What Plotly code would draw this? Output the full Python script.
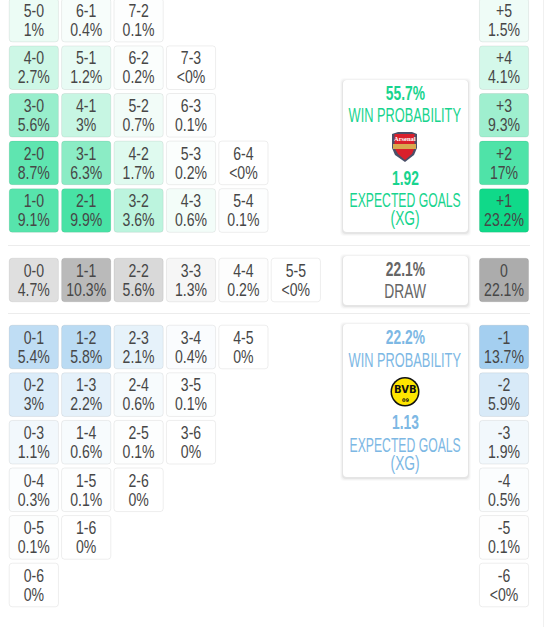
import plotly.graph_objects as go

# correct score blocks, one list per block
home_scores = ["5-0", "6-1", "7-2", "4-0", "5-1", "6-2", "7-3", "3-0", "4-1", "5-2", "6-3",
               "2-0", "3-1", "4-2", "5-3", "6-4", "1-0", "2-1", "3-2", "4-3", "5-4"]
home_pcts = ["1%", "0.4%", "0.1%", "2.7%", "1.2%", "0.2%", "<0%", "5.6%", "3%", "0.7%", "0.1%",
             "8.7%", "6.3%", "1.7%", "0.2%", "<0%", "9.1%", "9.9%", "3.6%", "0.6%", "0.1%"]
draw_scores = ["0-0", "1-1", "2-2", "3-3", "4-4", "5-5"]
draw_pcts = ["4.7%", "10.3%", "5.6%", "1.3%", "0.2%", "<0%"]
away_scores = ["0-1", "1-2", "2-3", "3-4", "4-5", "0-2", "1-3", "2-4", "3-5", "0-3", "1-4", "2-5", "3-6",
               "0-4", "1-5", "2-6", "0-5", "1-6", "0-6"]
away_pcts = ["5.4%", "5.8%", "2.1%", "0.4%", "0%", "3%", "2.2%", "0.6%", "0.1%", "1.1%", "0.6%", "0.1%", "0%",
             "0.3%", "0.1%", "0%", "0.1%", "0%", "0%"]

# goal difference column on the right
diff_labels = ["+5", "+4", "+3", "+2", "+1", "0", "-1", "-2", "-3", "-4", "-5", "-6"]
diff_pcts = ["1.5%", "4.1%", "9.3%", "17%", "23.2%", "22.1%", "13.7%", "5.9%", "1.9%", "0.5%", "0.1%", "<0%"]

home_card = ["55.7%", "WIN PROBABILITY", "1.92", "EXPECTED GOALS", "(XG)"]
draw_card = ["22.1%", "DRAW"]
away_card = ["22.2%", "WIN PROBABILITY", "1.13", "EXPECTED GOALS", "(XG)"]

GREEN = (16, 217, 137)
GREY = (168, 168, 168)
BLUE = (102, 175, 230)
TEXT = "#474747"
FONT = "Liberation Sans"


# x axis is in score columns, y axis in goal difference rows
def xpx(p):
    return (p - 33.8) / 52.4


def ypx(p):
    return 1 + (210.5 - p) / 47.6


def py_of(y):
    return 210.5 - (y - 1) * 47.6


def row_y(d):
    if d > 0:
        return d
    if d == 0:
        return ypx(280)
    return ypx(347) + d + 1


def value(pct):
    return 0.0 if pct.startswith("<") else float(pct.strip("%"))


def shade(base, alpha):
    alpha = min(alpha, 1)
    return "rgb(%d,%d,%d)" % tuple(255 - alpha * (255 - c) for c in base)


def rounded(x0, y0, x1, y1, r):
    # pixel box to rounded path in axis units
    pts = [("M", x0 + r, y0), ("L", x1 - r, y0), ("Q", x1, y0, x1, y0 + r), ("L", x1, y1 - r),
           ("Q", x1, y1, x1 - r, y1), ("L", x0 + r, y1), ("Q", x0, y1, x0, y1 - r), ("L", x0, y0 + r),
           ("Q", x0, y0, x0 + r, y0)]
    out = ""
    for p in pts:
        out += p[0]
        for i in range(1, len(p), 2):
            out += " %.4f,%.4f " % (xpx(p[i]), ypx(p[i + 1]))
    return out + "Z"


def poly(points):
    return "M " + " L ".join("%.4f,%.4f" % (xpx(a), ypx(b)) for a, b in points) + " Z"


fig = go.Figure()
shapes = []
annotations = []
label_x, label_y, label_text = [], [], []


def add_shape(**kw):
    shapes.append(dict(layer="below", **kw))


def add_cell(cx, cy, top, bottom, fill, xval):
    w = 24.6
    h = 21.8
    add_shape(type="path", path=rounded(cx - w, cy - h, cx + w, cy + h, 3),
              fillcolor=fill, line=dict(color="rgba(0,0,0,0.07)", width=1))
    label_x.extend([xval, xval])
    label_y.extend([ypx(cy - 8), ypx(cy + 11)])
    label_text.extend([top, bottom])


def cell_block(scores, pcts, base):
    for score, pct in zip(scores, pcts):
        h, a = [int(g) for g in score.split("-")]
        col = min(h, a)
        add_cell(33.8 + col * 52.4, py_of(row_y(h - a)), score, pct, shade(base, value(pct) / 13), col)


cell_block(home_scores, home_pcts, GREEN)
cell_block(draw_scores, draw_pcts, GREY)
cell_block(away_scores, away_pcts, BLUE)

# goal difference column
for lab, pct in zip(diff_labels, diff_pcts):
    d = int(lab)
    base = GREEN if d > 0 else (GREY if d == 0 else BLUE)
    add_cell(504, py_of(row_y(d)), lab, pct, shade(base, value(pct) / 23.2), xpx(504))

# separators and the faint page edge
for p in [245.5, 313.5]:
    add_shape(type="line", x0=xpx(8), x1=xpx(530), y0=ypx(p), y1=ypx(p), line=dict(color="#ececec", width=1))
add_shape(type="line", x0=xpx(543.5), x1=xpx(543.5), y0=ypx(0), y1=ypx(627), line=dict(color="#f0f0f0", width=1))


def add_card(y0, y1):
    for grow, a in [(3, 0.02), (2, 0.03), (1, 0.05)]:
        add_shape(type="path", path=rounded(343 - grow, y0 - grow + 1, 468 + grow, y1 + grow + 1, 4),
                  fillcolor="rgba(0,0,0,%.2f)" % a, line=dict(width=0))
    add_shape(type="path", path=rounded(343, y0, 468, y1, 4), fillcolor="white", line=dict(width=0))


add_card(80, 232)
add_card(256, 305)
add_card(324, 477)


def card_text(items, ys, colour):
    for t, p in zip(items, ys):
        bold = t[0].isdigit()
        annotations.append(dict(x=xpx(405), y=ypx(p), text="<b>%s</b>" % t if bold else t, showarrow=False,
                                font=dict(family=FONT, size=20, color=colour)))


card_text(home_card, [93, 115, 178, 200, 218], "#18d48e")
card_text(draw_card, [269, 291], "#666666")
card_text(away_card, [337, 360, 422, 445, 463], "#7db8e4")

# Arsenal crest
add_shape(type="path", path=poly([(392, 134), (398, 132), (412, 132), (417, 134), (417, 148), (414, 155),
                                  (405, 162), (395, 155), (392, 148)]),
          fillcolor="#4a4f68", line=dict(width=0))
add_shape(type="path", path=poly([(394.5, 134), (414.5, 134), (414.5, 148), (412, 154), (405, 160), (398, 154),
                                  (394.5, 148)]),
          fillcolor="#d9202c", line=dict(width=0))
add_shape(type="path", path=poly([(393, 144), (416, 144), (416, 149), (393, 149)]),
          fillcolor="#d8a94f", line=dict(width=0))
annotations.append(dict(x=xpx(405), y=ypx(138.5), text="<b>Arsenal</b>", showarrow=False,
                        font=dict(family="Liberation Serif", size=6.5, color="white")))

# BVB crest
add_shape(type="circle", x0=xpx(390.5), x1=xpx(419.5), y0=ypx(377), y1=ypx(406.5),
          fillcolor="#111111", line=dict(width=0))
add_shape(type="circle", x0=xpx(392), x1=xpx(418), y0=ypx(378.5), y1=ypx(405),
          fillcolor="#ffe600", line=dict(width=0))
annotations.append(dict(x=xpx(405), y=ypx(389), text="<b>BVB</b>", showarrow=False,
                        font=dict(family="DejaVu Sans", size=10, color="#111111")))
annotations.append(dict(x=xpx(405), y=ypx(400), text="<b>09</b>", showarrow=False,
                        font=dict(family="DejaVu Sans", size=5, color="#111111")))

fig.add_trace(go.Scatter(x=label_x, y=label_y, text=label_text, mode="text", hoverinfo="skip",
                         textposition="middle center", textfont=dict(family=FONT, size=19, color=TEXT)))

fig.update_layout(
    width=546, height=627, margin=dict(l=0, r=0, t=0, b=0), showlegend=False,
    paper_bgcolor="white", plot_bgcolor="white",
    xaxis=dict(range=[xpx(0), xpx(546)], visible=False, fixedrange=True),
    yaxis=dict(range=[ypx(627), ypx(0)], visible=False, fixedrange=True),
    shapes=shapes, annotations=annotations,
)

# no condensed font is installed, so squeeze the big labels sideways
squeeze = """
document.body.style.margin = '0';
document.body.style.overflow = 'hidden';
document.querySelectorAll('svg text').forEach(function (t) {
    var size = parseFloat(getComputedStyle(t).fontSize);
    if (size < 12) return;
    var k = 0.74;
    if (size > 19.5) k = 0.69;
    if (t.textContent.indexOf('EXPECTED') >= 0) k = 0.61;
    if (t.textContent.indexOf('WIN') >= 0) k = 0.64;
    t.setAttribute('lengthAdjust', 'spacingAndGlyphs');
    t.setAttribute('textLength', t.getComputedTextLength() * k);
});
"""
fig.write_html("out.html", config=dict(displayModeBar=False), post_script=squeeze)
